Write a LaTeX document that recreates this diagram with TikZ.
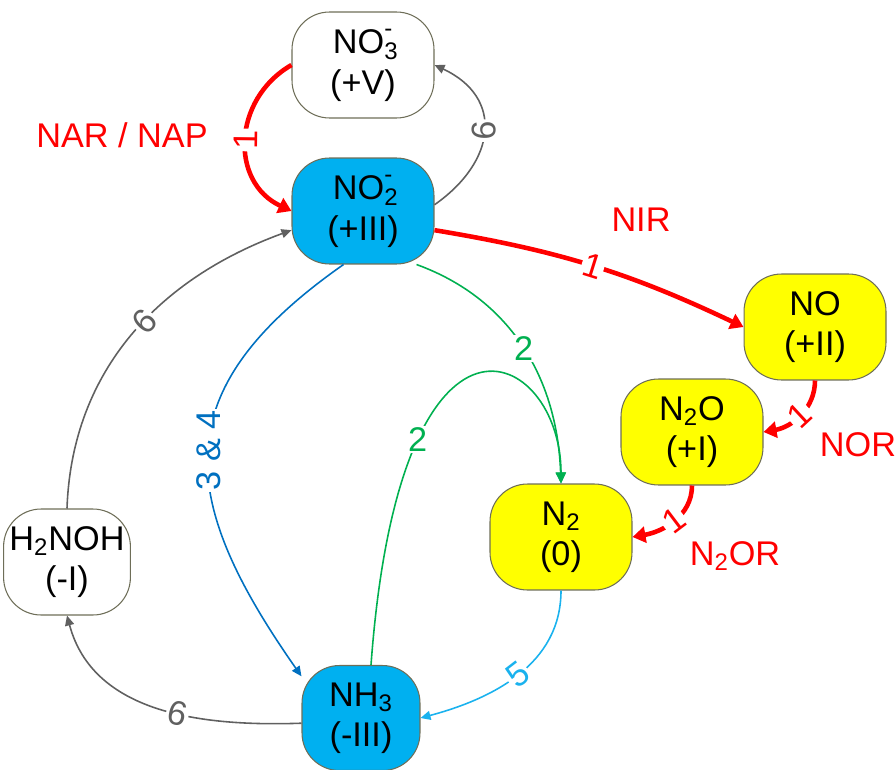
\documentclass[tikz,border=0pt]{standalone}
\usepackage{fontspec}
\setmainfont{Liberation Sans}
\usetikzlibrary{arrows.meta,positioning}

\definecolor{skyfill}{HTML}{00B0F0}
\definecolor{lemon}{HTML}{FFFF00}
\definecolor{hotred}{HTML}{FF0000}
\definecolor{leaf}{HTML}{00B050}
\definecolor{deepblue}{HTML}{0070C0}
\definecolor{skyline}{HTML}{1AB2EE}
\definecolor{slate}{HTML}{606060}
\definecolor{rim}{HTML}{6E6E58}

\newcommand{\subsup}[2]{\rlap{\textsubscript{#1}}\raisebox{0.25ex}{\textsuperscript{#2}}}

\begin{document}
\begin{tikzpicture}[
    x=0.02cm, y=0.02cm,
    every node/.style={font=\fontsize{19.5}{23}\selectfont},
    species/.style={draw=rim, line width=0.6pt, rounded corners=0.75cm, align=center, minimum width=2.84cm, minimum height=2.12cm, fill=white},
    reduced/.style={species, fill=skyfill},
    gas/.style={species, fill=lemon},
    enzyme/.style={text=hotred},
    tag/.style={fill=white, inner sep=1pt, sloped},
    redflow/.style={-{Triangle[length=2.6mm,width=3.2mm]}, line width=2.6pt, hotred},
    grayflow/.style={-{Triangle[length=2mm,width=1.8mm]}, line width=0.9pt, slate},
    greenflow/.style={-{Triangle[length=2.2mm,width=2mm]}, line width=0.9pt, leaf},
    blueflow/.style={-{Triangle[length=2mm,width=1.8mm]}, line width=0.9pt, deepblue},
    cyanflow/.style={-{Triangle[length=2mm,width=1.8mm]}, line width=0.9pt, skyline}
]
\useasboundingbox (0,0) rectangle (895,769);

% species boxes
\node[species] (no3) at (363,704) {NO\subsup{3}{-}\\(+V)};
\node[reduced] (no2) at (363,558) {NO\subsup{2}{-}\\(+III)};
\node[gas] (no) at (815,442) {NO\\(+II)};
\node[gas] (ntwoo) at (692,337) {N\textsubscript{2}O\\(+I)};
\node[gas] (ntwo) at (561,232) {N\textsubscript{2}\\(0)};
\node[species, minimum width=2.28cm] (hnoh) at (67,207) {H\textsubscript{2}NOH\\(-I)};
\node[reduced, minimum width=2.36cm, minimum height=2.1cm] (nh3) at (361,51) {NH\textsubscript{3}\\(-III)};

% enzyme names
\node[enzyme] (nar) at (122,634) {NAR / NAP};
\node[enzyme] (nir) at (641,549) {NIR};
\node[enzyme] (nor) at (858,324) {NOR};
\node[enzyme] (n2or) at (735,213) {N\textsubscript{2}OR};

% denitrification
\draw[redflow] (no3.west) to[out=210,in=155,looseness=1.2] node[tag,text=hotred]{1} (no2.west);
\draw[redflow] (no2.-15) to[bend left=8] node[tag,text=hotred]{1} (no.west);
\draw[redflow] (no.south) to[out=-90,in=10] node[tag,text=hotred]{1} (ntwoo.east);
\draw[redflow] (ntwoo.south) to[out=-90,in=10] node[tag,text=hotred]{1} (ntwo.east);

% anammox
\draw[greenflow] (no2.-45) to[out=-20,in=92] node[fill=white,inner sep=1pt,text=leaf]{2} (ntwo.north);
\draw[greenflow] ([xshift=0.2cm]nh3.north) .. controls +(85.8:7.96cm) and +(90:2.7cm) .. (ntwo.north)
    node[pos=0.27,fill=white,inner sep=1pt,text=leaf]{2};

% DNRA, fixation
\draw[blueflow] (no2.-110) to[out=215,in=125,looseness=1.35] node[rotate=90,fill=white,inner sep=1pt,text=deepblue]{3 \& 4} (nh3.145);
\draw[cyanflow] (ntwo.south) to[out=-90,in=15] node[tag,text=skyline]{5} (nh3.east);

% nitrification
\draw[grayflow] (nh3.185) to[out=182,in=-75] node[tag,pos=0.42,text=slate]{6} (hnoh.south);
\draw[grayflow] (hnoh.north) to[out=88,in=200] node[tag,pos=0.55,text=slate]{6} (no2.195);
\draw[grayflow] (no2.5) to[out=35,in=-25,looseness=1.4] node[tag,text=slate]{6} (no3.east);
\end{tikzpicture}
\end{document}
